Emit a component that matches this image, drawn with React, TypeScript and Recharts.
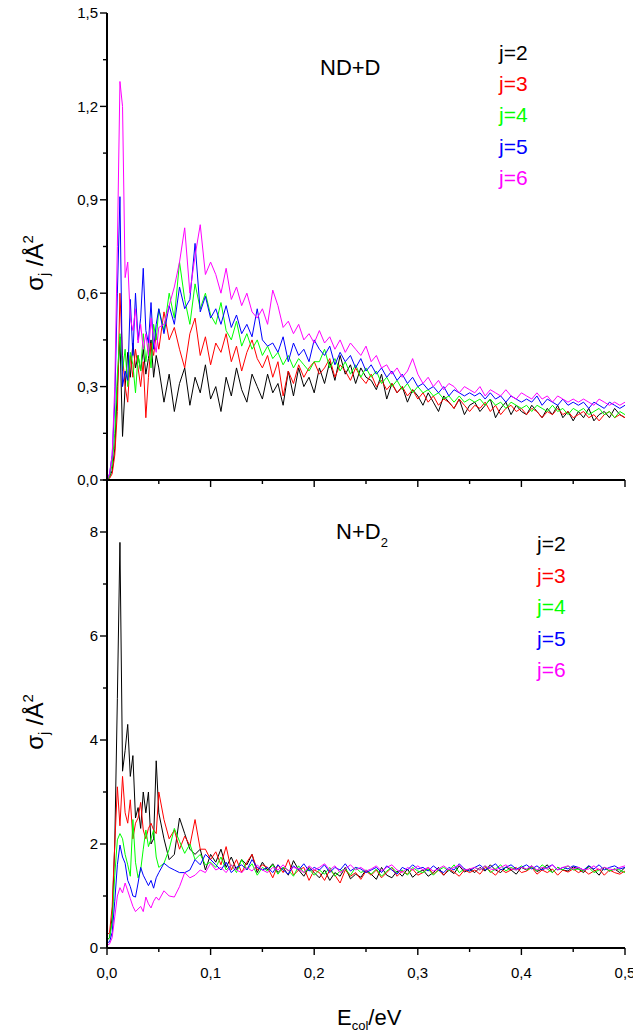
import { Line, LineChart, XAxis, YAxis } from "recharts";

// collision energy grid (eV)
const energy = [
  0, 0.0025, 0.005, 0.0075, 0.01, 0.0125, 0.015, 0.0175, 0.02, 0.0225, 0.025,
  0.0275, 0.03, 0.0325, 0.035, 0.0375, 0.04, 0.0425, 0.045, 0.0475, 0.05,
  0.055, 0.06, 0.065, 0.07, 0.075, 0.08, 0.085, 0.09, 0.095, 0.1,
  0.105, 0.11, 0.115, 0.12, 0.125, 0.13, 0.135, 0.14, 0.145, 0.15,
  0.155, 0.16, 0.165, 0.17, 0.175, 0.18, 0.185, 0.19, 0.195, 0.2,
  0.205, 0.21, 0.215, 0.22, 0.225, 0.23, 0.235, 0.24, 0.245, 0.25,
  0.255, 0.26, 0.265, 0.27, 0.275, 0.28, 0.285, 0.29, 0.295, 0.3,
  0.305, 0.31, 0.315, 0.32, 0.325, 0.33, 0.335, 0.34, 0.345, 0.35,
  0.355, 0.36, 0.365, 0.37, 0.375, 0.38, 0.385, 0.39, 0.395, 0.4,
  0.405, 0.41, 0.415, 0.42, 0.425, 0.43, 0.435, 0.44, 0.445, 0.45,
  0.455, 0.46, 0.465, 0.47, 0.475, 0.48, 0.485, 0.49, 0.495, 0.5,
];

// ND + D
const ndJ2 = [
  0, 0.01, 0.03, 0.1, 0.3, 0.46, 0.14, 0.3, 0.41, 0.33, 0.44, 0.36, 0.4, 0.35, 0.42, 0.34, 0.39, 0.45, 0.33, 0.4, 0.36,
  0.25, 0.34, 0.22, 0.31, 0.36, 0.24, 0.33, 0.28, 0.37, 0.26,
  0.3, 0.22, 0.33, 0.27, 0.36, 0.29, 0.25, 0.34, 0.3, 0.26,
  0.34, 0.28, 0.31, 0.24, 0.35, 0.27, 0.36, 0.3, 0.33, 0.28,
  0.36, 0.31, 0.38, 0.32, 0.4, 0.34, 0.37, 0.31, 0.36, 0.33,
  0.32, 0.29, 0.34, 0.26, 0.31, 0.28, 0.3, 0.25, 0.29, 0.27,
  0.24, 0.28, 0.25, 0.22, 0.27, 0.25, 0.23, 0.26, 0.21, 0.24,
  0.25, 0.22, 0.24, 0.26, 0.2, 0.23, 0.25, 0.21, 0.24, 0.22,
  0.21, 0.24, 0.22, 0.2, 0.23, 0.21, 0.24, 0.2, 0.22, 0.19,
  0.22, 0.2, 0.23, 0.19, 0.21, 0.22, 0.2, 0.23, 0.21, 0.2,
];
const ndJ3 = [
  0, 0.005, 0.02, 0.08, 0.22, 0.6, 0.4, 0.3, 0.25, 0.4, 0.33, 0.42, 0.36, 0.3, 0.38, 0.2, 0.33, 0.44, 0.4, 0.47, 0.42,
  0.54, 0.45, 0.49, 0.42, 0.36, 0.47, 0.52, 0.4, 0.46, 0.37,
  0.44, 0.41, 0.47, 0.38, 0.43, 0.35, 0.41, 0.45, 0.39, 0.36,
  0.4, 0.33, 0.38, 0.27, 0.35, 0.31, 0.37, 0.33, 0.36, 0.38,
  0.34, 0.36, 0.39, 0.33, 0.37, 0.35, 0.32, 0.36, 0.33, 0.31,
  0.34, 0.3, 0.32, 0.29, 0.31, 0.28, 0.3, 0.27, 0.29, 0.26,
  0.28, 0.25, 0.27, 0.24, 0.26, 0.25, 0.23, 0.26, 0.24, 0.22,
  0.24, 0.23, 0.25, 0.22, 0.24, 0.21, 0.23, 0.24, 0.22, 0.23,
  0.21, 0.23, 0.22, 0.2, 0.22, 0.21, 0.23, 0.21, 0.22, 0.2,
  0.21, 0.22, 0.2, 0.21, 0.19, 0.21, 0.22, 0.2, 0.21, 0.2,
];
const ndJ4 = [
  0, 0.01, 0.05, 0.15, 0.34, 0.47, 0.35, 0.42, 0.3, 0.41, 0.37, 0.28, 0.4, 0.35, 0.47, 0.38, 0.44, 0.36, 0.5, 0.45, 0.55,
  0.48, 0.6, 0.52, 0.7, 0.58, 0.5, 0.63, 0.55, 0.6, 0.53,
  0.5, 0.57, 0.48, 0.45, 0.51, 0.43, 0.47, 0.42, 0.45, 0.4,
  0.43, 0.39, 0.41, 0.37, 0.4, 0.36, 0.39, 0.37, 0.35, 0.38,
  0.38, 0.42, 0.36, 0.39, 0.35, 0.38, 0.34, 0.37, 0.33, 0.36,
  0.33, 0.35, 0.31, 0.33, 0.3, 0.32, 0.29, 0.31, 0.28, 0.3,
  0.28, 0.29, 0.27, 0.28, 0.26, 0.27, 0.25, 0.27, 0.25, 0.26,
  0.25, 0.26, 0.24, 0.26, 0.24, 0.25, 0.23, 0.25, 0.24, 0.23,
  0.24, 0.22, 0.24, 0.23, 0.22, 0.24, 0.22, 0.23, 0.21, 0.23,
  0.22, 0.23, 0.21, 0.22, 0.23, 0.21, 0.22, 0.2, 0.22, 0.21,
];
const ndJ5 = [
  0, 0.02, 0.08, 0.25, 0.6, 0.91, 0.3, 0.35, 0.32, 0.58, 0.4, 0.6, 0.45, 0.52, 0.68, 0.48, 0.44, 0.57, 0.42, 0.5, 0.55,
  0.47, 0.56, 0.5, 0.62, 0.55, 0.58, 0.76, 0.54, 0.59, 0.52,
  0.55, 0.5, 0.56, 0.49, 0.53, 0.47, 0.5, 0.46, 0.55, 0.45,
  0.43, 0.44, 0.41, 0.46, 0.38, 0.44, 0.4, 0.42, 0.38, 0.45,
  0.42, 0.4, 0.43, 0.37, 0.41, 0.38, 0.4, 0.36, 0.39, 0.35,
  0.37, 0.34, 0.36, 0.33, 0.35, 0.32, 0.34, 0.31, 0.33, 0.3,
  0.31, 0.29, 0.3, 0.28, 0.3, 0.27, 0.29, 0.28, 0.27, 0.28,
  0.27, 0.28, 0.26, 0.28, 0.26, 0.27, 0.25, 0.27, 0.26, 0.25,
  0.26, 0.25, 0.27, 0.24, 0.26, 0.25, 0.24, 0.26, 0.24, 0.25,
  0.24, 0.25, 0.23, 0.25, 0.24, 0.23, 0.25, 0.24, 0.23, 0.24,
];
const ndJ6 = [
  0, 0.02, 0.08, 0.3, 0.75, 1.28, 1.2, 0.65, 0.7, 0.52, 0.48, 0.55, 0.44, 0.5, 0.42, 0.47, 0.4, 0.52, 0.45, 0.41, 0.49,
  0.5, 0.56, 0.62, 0.7, 0.81, 0.6, 0.72, 0.82, 0.66, 0.7,
  0.66, 0.6, 0.68, 0.58, 0.62, 0.56, 0.6, 0.54, 0.52, 0.55,
  0.5, 0.61, 0.56, 0.49, 0.51, 0.47, 0.5, 0.45, 0.47, 0.44,
  0.48, 0.44, 0.46, 0.42, 0.45, 0.41, 0.44, 0.42, 0.4, 0.43,
  0.38, 0.4, 0.36, 0.37, 0.34, 0.36, 0.33, 0.35, 0.39, 0.34,
  0.31, 0.33, 0.3, 0.32, 0.29, 0.31, 0.3, 0.28, 0.3, 0.29,
  0.28, 0.3, 0.27, 0.29, 0.28, 0.27, 0.29, 0.27, 0.26, 0.28,
  0.27, 0.26, 0.28, 0.26, 0.27, 0.25, 0.27, 0.26, 0.25, 0.26,
  0.25, 0.26, 0.25, 0.24, 0.26, 0.25, 0.24, 0.25, 0.24, 0.25,
];

// N + D2
const nd2J2 = [
  0.15, 0.2, 0.6, 2.0, 4.8, 7.8, 3.4, 3.8, 4.3, 3.3, 3.7, 2.5, 2.7, 2.3, 3.0, 2.6, 3.0, 2.0, 2.1, 3.6, 2.6,
  2.1, 1.7, 1.8, 2.5, 2.2, 1.9, 1.8, 1.9, 1.5, 1.8,
  1.65, 1.9, 1.55, 1.75, 1.5, 1.7, 1.6, 1.8, 1.45, 1.65,
  1.5, 1.62, 1.45, 1.55, 1.4, 1.68, 1.5, 1.38, 1.55, 1.45,
  1.35, 1.5, 1.3, 1.45, 1.38, 1.55, 1.33, 1.42, 1.36, 1.5,
  1.42, 1.32, 1.55, 1.4, 1.35, 1.48, 1.38, 1.52, 1.36, 1.45,
  1.5, 1.38, 1.45, 1.55, 1.4, 1.5, 1.43, 1.58, 1.46, 1.52,
  1.45, 1.55, 1.48, 1.6, 1.5, 1.45, 1.56, 1.5, 1.42, 1.55,
  1.5, 1.58, 1.47, 1.52, 1.6, 1.45, 1.55, 1.5, 1.48, 1.56,
  1.52, 1.45, 1.58, 1.5, 1.4, 1.55, 1.48, 1.52, 1.45, 1.55,
];
const nd2J3 = [
  0.25, 0.3, 0.8, 2.0, 3.1, 2.35, 3.3, 2.6, 2.4, 2.85, 2.1, 2.4, 2.5, 2.8, 2.27, 2.1, 2.3, 2.4, 2.27, 2.2, 3.0,
  2.47, 2.1, 2.27, 1.9, 2.15, 1.97, 2.47, 1.9, 1.9, 1.7,
  1.85, 1.6, 1.95, 1.5, 1.7, 1.45, 1.65, 1.8, 1.5, 1.6,
  1.55, 1.35, 1.6, 1.45, 1.7, 1.4, 1.5, 1.55, 1.3, 1.5,
  1.45, 1.3, 1.5, 1.4, 1.25, 1.5, 1.38, 1.45, 1.32, 1.48,
  1.4, 1.5, 1.35, 1.45, 1.55, 1.38, 1.48, 1.42, 1.52, 1.4,
  1.45, 1.55, 1.42, 1.5, 1.4, 1.52, 1.46, 1.38, 1.5, 1.45,
  1.5, 1.42, 1.55, 1.48, 1.4, 1.52, 1.45, 1.5, 1.55, 1.45,
  1.48, 1.55, 1.42, 1.5, 1.45, 1.52, 1.4, 1.5, 1.46, 1.52,
  1.45, 1.5, 1.42, 1.48, 1.52, 1.4, 1.5, 1.45, 1.42, 1.48,
];
const nd2J4 = [
  0.15, 0.2, 0.5, 1.4, 2.08, 2.2, 2.1, 1.8, 1.6, 1.38, 2.47, 1.65, 1.35, 1.5, 1.9, 2.27, 1.95, 2.1, 2.27, 1.75, 1.55,
  1.63, 1.9, 2.3, 2.05, 1.82, 2.0, 1.7, 1.8, 1.6, 1.65,
  1.55, 1.75, 1.5, 1.6, 1.45, 1.7, 1.5, 1.62, 1.4, 1.55,
  1.48, 1.6, 1.42, 1.55, 1.5, 1.38, 1.58, 1.45, 1.52, 1.4,
  1.5, 1.42, 1.55, 1.38, 1.48, 1.52, 1.4, 1.55, 1.45, 1.5,
  1.42, 1.52, 1.38, 1.48, 1.55, 1.45, 1.5, 1.4, 1.55, 1.48,
  1.45, 1.52, 1.4, 1.5, 1.55, 1.48, 1.6, 1.45, 1.52, 1.48,
  1.55, 1.5, 1.58, 1.45, 1.52, 1.6, 1.48, 1.55, 1.5, 1.58,
  1.5, 1.55, 1.48, 1.6, 1.52, 1.45, 1.55, 1.5, 1.58, 1.5,
  1.52, 1.48, 1.55, 1.45, 1.5, 1.55, 1.48, 1.52, 1.5, 1.45,
];
const nd2J5 = [
  0.1, 0.12, 0.3, 0.9, 1.6, 1.98, 1.75, 1.63, 1.3, 1.18, 1.0, 0.98, 1.25, 1.55, 1.4, 1.3, 1.2, 1.3, 1.15, 1.35, 1.45,
  1.63, 1.55, 1.5, 1.45, 1.45, 1.5, 1.7, 1.6, 1.8, 1.7,
  1.6, 1.5, 1.65, 1.45, 1.55, 1.6, 1.5, 1.7, 1.55, 1.5,
  1.55, 1.45, 1.6, 1.5, 1.42, 1.58, 1.5, 1.62, 1.48, 1.55,
  1.5, 1.6, 1.45, 1.55, 1.5, 1.62, 1.48, 1.55, 1.52, 1.45,
  1.5, 1.55, 1.45, 1.58, 1.5, 1.42, 1.55, 1.5, 1.6, 1.52,
  1.55, 1.48, 1.58, 1.5, 1.45, 1.55, 1.5, 1.62, 1.52, 1.48,
  1.55, 1.6, 1.5, 1.55, 1.62, 1.5, 1.55, 1.6, 1.52, 1.55,
  1.6, 1.52, 1.58, 1.5, 1.55, 1.6, 1.5, 1.55, 1.52, 1.58,
  1.55, 1.5, 1.58, 1.52, 1.6, 1.5, 1.55, 1.58, 1.52, 1.55,
];
const nd2J6 = [
  0.05, 0.08, 0.2, 0.6, 1.0, 1.16, 1.06, 1.25, 1.1, 0.95, 0.8, 0.7, 0.75, 0.8, 0.7, 0.98, 0.85, 0.77, 0.9, 0.98, 0.92,
  1.1, 1.0, 0.98, 1.18, 1.45, 1.35, 1.4, 1.5, 1.45, 1.63,
  1.5, 1.55, 1.45, 1.6, 1.5, 1.45, 1.55, 1.48, 1.6, 1.5,
  1.45, 1.55, 1.5, 1.6, 1.48, 1.55, 1.52, 1.45, 1.58, 1.5,
  1.55, 1.62, 1.5, 1.58, 1.45, 1.52, 1.6, 1.5, 1.55, 1.48,
  1.52, 1.58, 1.48, 1.55, 1.6, 1.5, 1.45, 1.55, 1.5, 1.58,
  1.5, 1.55, 1.48, 1.52, 1.58, 1.5, 1.55, 1.6, 1.5, 1.52,
  1.55, 1.5, 1.58, 1.52, 1.5, 1.55, 1.6, 1.52, 1.5, 1.55,
  1.52, 1.58, 1.5, 1.55, 1.52, 1.6, 1.5, 1.55, 1.58, 1.52,
  1.55, 1.5, 1.52, 1.58, 1.5, 1.55, 1.52, 1.5, 1.55, 1.58,
];

const seriesNames = ["j=2", "j=3", "j=4", "j=5", "j=6"];
const seriesColors = ["#000000", "#ff0000", "#00ff00", "#0000ff", "#ff00ff"];

const xTicks = [0, 0.05, 0.1, 0.15, 0.2, 0.25, 0.3, 0.35, 0.4, 0.45, 0.5];
const xMajor = [0, 0.1, 0.2, 0.3, 0.4, 0.5];
const topTicks = [0, 0.15, 0.3, 0.45, 0.6, 0.75, 0.9, 1.05, 1.2, 1.35, 1.5];
const topMajor = [0, 0.3, 0.6, 0.9, 1.2, 1.5];
const botTicks = [0, 1, 2, 3, 4, 5, 6, 7, 8, 9];
const botMajor = [0, 2, 4, 6, 8];

const FONT = "'Liberation Sans', Arial, sans-serif";
const comma = (v: number) => v.toFixed(1).replace(".", ",");

const topData = energy.map((e, i) => ({
  e, j2: ndJ2[i], j3: ndJ3[i], j4: ndJ4[i], j5: ndJ5[i], j6: ndJ6[i],
}));
const botData = energy.map((e, i) => ({
  e, j2: nd2J2[i], j3: nd2J3[i], j4: nd2J4[i], j5: nd2J5[i], j6: nd2J6[i],
}));

type Dir = "left" | "right" | "up" | "down";

function makeTick(dir: Dir, majors: number[], label?: (v: number) => string) {
  return (props: any) => {
    const { x, y, payload } = props;
    const v = payload.value;
    const major = majors.includes(v);
    const len = major ? 7 : 4;
    const dx = dir === "left" ? -len : dir === "right" ? len : 0;
    const dy = dir === "up" ? -len : dir === "down" ? len : 0;
    let text = null;
    if (major && label) {
      text =
        dir === "left" ? (
          <text x={x - 9} y={y} dy="0.36em" textAnchor="end" fontSize={15} fontFamily={FONT} fill="#000">
            {label(v)}
          </text>
        ) : (
          <text x={x} y={y + 30} textAnchor="middle" fontSize={15} fontFamily={FONT} fill="#000">
            {label(v)}
          </text>
        );
    }
    return (
      <g>
        <line x1={x} y1={y} x2={x + dx} y2={y + dy} stroke="#000" strokeWidth={1.4} />
        {text}
      </g>
    );
  };
}

const axisLine = { stroke: "#000", strokeWidth: 2 };

function Panel({ data, yTicks, yMajor, yMax, yLabel, top, height, marginTop, xAxisHeight, showX }: any) {
  return (
    <div style={{ position: "absolute", left: 0, top }}>
      <LineChart width={633} height={height} data={data} margin={{ top: marginTop, right: 8, bottom: 0, left: 0 }}>
        <XAxis
          xAxisId="b" dataKey="e" type="number" domain={[0, 0.5]} ticks={xTicks} interval={0}
          height={xAxisHeight} axisLine={axisLine} tickLine={false} tickSize={0} tickMargin={0}
          tick={makeTick("down", xMajor, showX ? comma : undefined)} allowDataOverflow
        />
        <XAxis
          xAxisId="t" orientation="top" dataKey="e" type="number" domain={[0, 0.5]} ticks={xTicks} interval={0}
          height={0} axisLine={axisLine} tickLine={false} tickSize={0} tickMargin={0}
          tick={makeTick("down", xMajor)} allowDataOverflow
        />
        <YAxis
          yAxisId="l" type="number" domain={[0, yMax]} ticks={yTicks} interval={0} width={107}
          axisLine={axisLine} tickLine={false} tickSize={0} tickMargin={0}
          tick={makeTick("left", yMajor, yLabel)} allowDataOverflow
        />
        <YAxis
          yAxisId="r" orientation="right" type="number" domain={[0, yMax]} ticks={yTicks} interval={0} width={0}
          axisLine={axisLine} tickLine={false} tickSize={0} tickMargin={0}
          tick={makeTick("left", yMajor)} allowDataOverflow
        />
        {["j2", "j3", "j4", "j5", "j6"].map((k, i) => (
          <Line
            key={k} xAxisId="b" yAxisId="l" dataKey={k} name={seriesNames[i]} type="linear"
            stroke={seriesColors[i]} strokeWidth={1} dot={false} isAnimationActive={false}
          />
        ))}
      </LineChart>
    </div>
  );
}

function YTitle({ x, y }: { x: number; y: number }) {
  return (
    <text transform={`translate(${x},${y}) rotate(-90)`} textAnchor="middle" fontSize={24} fontFamily={FONT} fill="#000">
      σ<tspan fontSize={14} dy={6}>j</tspan>
      <tspan dy={-6}> /Å</tspan>
      <tspan fontSize={15} dy={-10}>2</tspan>
    </text>
  );
}

export default function App() {
  return (
    <div style={{ position: "absolute", left: 0, top: 0, width: 633, height: 1032, background: "#fff", overflow: "hidden" }}>
      <Panel data={topData} yTicks={topTicks} yMajor={topMajor} yMax={1.5} yLabel={comma}
        top={0} height={490} marginTop={13} xAxisHeight={10} showX={false} />
      <Panel data={botData} yTicks={botTicks} yMajor={botMajor} yMax={9} yLabel={(v: number) => String(v)}
        top={470} height={562} marginTop={10} xAxisHeight={84} showX />
      <svg width={633} height={1032} style={{ position: "absolute", left: 0, top: 0, pointerEvents: "none" }}>
        <YTitle x={43} y={263} />
        <YTitle x={43} y={722} />
        <text x={320} y={75} fontSize={22} fontFamily={FONT} fill="#000">ND+D</text>
        {seriesNames.map((n, i) => (
          <text key={"a" + n} x={499} y={60 + i * 31.2} fontSize={21} fontFamily={FONT} fill={seriesColors[i]}>{n}</text>
        ))}
        <text x={336} y={539} fontSize={22} fontFamily={FONT} fill="#000">
          N+D<tspan fontSize={13} dy={8}>2</tspan>
        </text>
        {seriesNames.map((n, i) => (
          <text key={"b" + n} x={537} y={551 + i * 31.5} fontSize={21} fontFamily={FONT} fill={seriesColors[i]}>{n}</text>
        ))}
        <text x={337} y={1025} fontSize={22} fontFamily={FONT} fill="#000">
          E<tspan fontSize={13} dy={5}>col</tspan>
          <tspan dy={-5}>/eV</tspan>
        </text>
      </svg>
    </div>
  );
}
